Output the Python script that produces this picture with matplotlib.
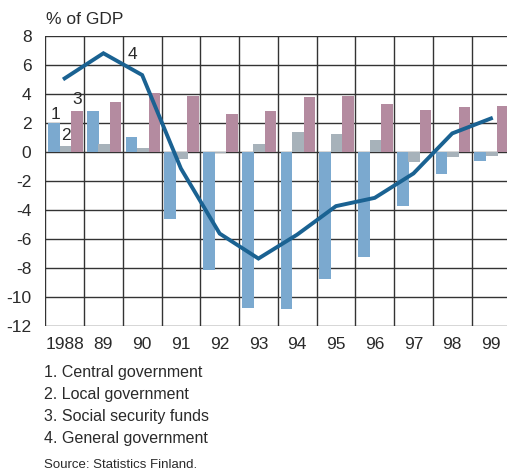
import matplotlib
matplotlib.use('Agg')
from matplotlib import pyplot as plt
import numpy as np

years = ['1988', '89', '90', '91', '92', '93', '94', '95', '96', '97', '98', '99']
central = [1.96, 2.81, 1.03, -4.64, -8.11, -10.76, -10.85, -8.76, -7.24, -3.72, -1.54, -0.62]
local = [0.41, 0.53, 0.26, -0.48, -0.11, 0.53, 1.36, 1.22, 0.81, -0.69, -0.34, -0.28]
social = [2.81, 3.43, 4.05, 3.84, 2.60, 2.81, 3.77, 3.84, 3.29, 2.88, 3.08, 3.15]
general = [5.06, 6.79, 5.29, -1.15, -5.63, -7.35, -5.70, -3.74, -3.17, -1.49, 1.27, 2.30]
legend_lines = ['1. Central government', '2. Local government',
                '3. Social security funds', '4. General government']

plotColors = {
    'blue': '#7ba9cf',
    'grey': '#a7b2ba',
    'pink': '#b48ba0',
    'line': '#1a6292',
    'text': '#2a2a2a',
}

plt.rcParams['font.family'] = ['Liberation Sans', 'DejaVu Sans']
fig = plt.figure(figsize=(5.07, 4.76), dpi=100)
ax = fig.add_axes([0.0893, 0.315, 0.9173, 0.610])

x = np.arange(len(years))
w = 0.30
ax.bar(x - 0.275, central, w, color=plotColors['blue'], zorder=3)
ax.bar(x + 0.02, local, w, color=plotColors['grey'], zorder=3)
ax.bar(x + 0.315, social, w, color=plotColors['pink'], zorder=3)
ax.plot(x, general, color=plotColors['line'], lw=2.8, zorder=4,
        solid_joinstyle='miter')

ax.set_xlim(-0.5, len(years) - 0.5)
ax.set_ylim(-12, 8)
ax.set_yticks(range(-12, 9, 2))
ax.set_yticklabels([str(v) for v in range(-12, 9, 2)])
ax.set_xticks(x)
ax.set_xticklabels(years)
for b in np.arange(-0.5, len(years), 1.0):
	ax.axvline(b, color='#333333', lw=1.0, zorder=1)
for v in range(-12, 9, 2):
	ax.axhline(v, color='#333333', lw=1.0, zorder=1)
for s in ax.spines.values():
	s.set_visible(False)
ax.tick_params(length=0, labelsize=12.5, colors=plotColors['text'])
ax.tick_params(axis='y', pad=10)
ax.tick_params(axis='x', pad=8)

# series numbers
ax.text(-0.23, 2.05, '1', fontsize=12.5, color=plotColors['text'], ha='center', va='bottom')
ax.text(0.04, 0.6, '2', fontsize=12.5, color=plotColors['text'], ha='center', va='bottom')
ax.text(0.32, 3.1, '3', fontsize=12.5, color=plotColors['text'], ha='center', va='bottom')
ax.text(1.74, 6.2, '4', fontsize=12.5, color=plotColors['text'], ha='center', va='bottom')

fig.text(46 / 507, 1 - 20 / 476, '% of GDP', fontsize=12.5, color=plotColors['text'],
         ha='left', va='center')
for i, t in enumerate(legend_lines):
	fig.text(44 / 507, 1 - (373 + 22 * i) / 476, t, fontsize=11.5,
	         color=plotColors['text'], ha='left', va='center')
fig.text(44 / 507, 1 - 465 / 476, 'Source: Statistics Finland.', fontsize=9.5,
         color=plotColors['text'], ha='left', va='center')

fig.savefig('out.png', dpi=100)
